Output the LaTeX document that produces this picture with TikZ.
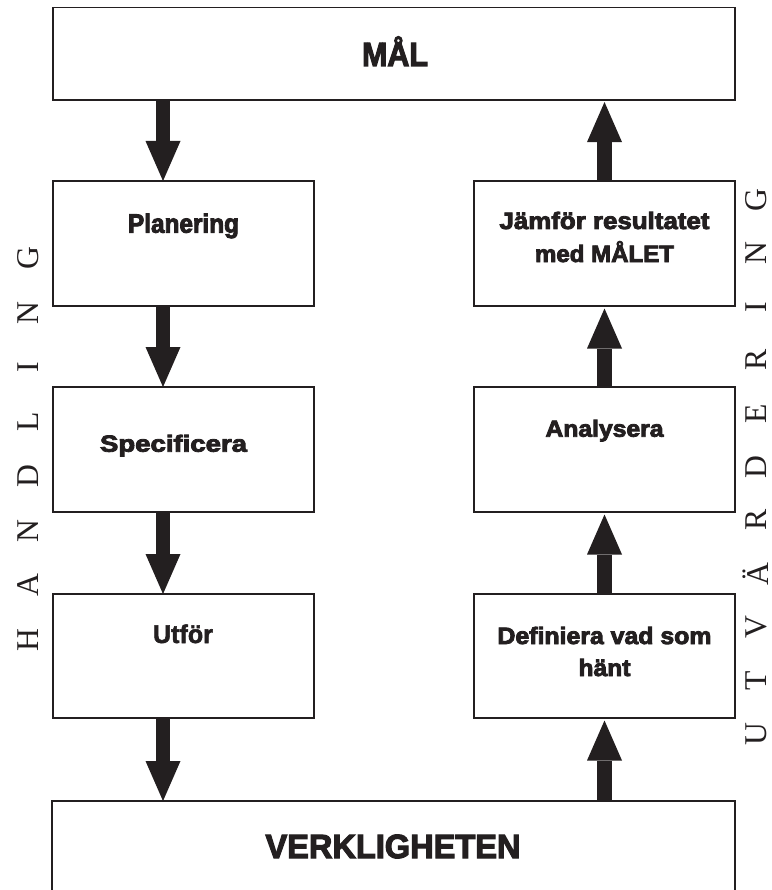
\documentclass[tikz,border=0pt]{standalone}
\usepackage{fontspec}
\usepackage{graphicx}
\usetikzlibrary{arrows.meta}
\setmainfont{Liberation Sans}
\newfontfamily\heavyfont[FakeBold=3.5]{Liberation Sans}
\newfontfamily\medfont[FakeBold=2]{Liberation Sans}
\newfontfamily\letterfont{Liberation Serif}
\definecolor{ink}{HTML}{231F20}
\newcommand{\fitline}[3]{\resizebox{#2pt}{\height}{\fontsize{#1}{#1}\selectfont #3}}
\tikzset{
  box/.style={draw=ink, line width=1.6pt, rectangle, inner sep=0pt, outer sep=0pt},
  txt/.style={anchor=base, inner sep=0pt, outer sep=0pt, text=ink, font=\heavyfont\bfseries},
  vlet/.style={inner sep=0pt, outer sep=0pt, text=ink, rotate=90, font=\letterfont\fontsize{31.7}{32}\selectfont},
  bigarrow/.style={draw=ink, line width=14.7pt, -{Triangle[length=40pt,width=35pt,line width=0pt]}}
}
\begin{document}
\begin{tikzpicture}[x=1pt,y=-1pt]
\useasboundingbox (0,0) rectangle (771,890);
% boxes
\node[box, minimum width=682pt, minimum height=92.7pt] (mal) at (394,53.7) {};
\node[box, minimum width=261pt, minimum height=125pt] (plan) at (183.5,243.5) {};
\node[box, minimum width=261pt, minimum height=125pt] (spec) at (183.5,449.5) {};
\node[box, minimum width=261pt, minimum height=124pt] (utf) at (183.5,656) {};
\node[box, minimum width=261pt, minimum height=125pt] (jmf) at (604.5,243.5) {};
\node[box, minimum width=261pt, minimum height=125pt] (ana) at (604.5,449.5) {};
\node[box, minimum width=261pt, minimum height=124pt] (def) at (604.5,656) {};
\node[box, minimum width=683pt, minimum height=99pt] (verk) at (393.5,850.5) {};
% texts
\node[txt] (tmal) at ([xshift=1pt,yshift=-12.3pt]mal.center) {\fitline{33.5}{66}{MÅL}};
\node[txt] (tverk) at ([xshift=-0.5pt,yshift=-57pt]verk.north) {\fitline{33.5}{255}{VERKLIGHETEN}};
\node[txt] (tplan) at ([yshift=-51.7pt]plan.north) {\fitline{26.5}{111}{Planering}};
\node[txt] (tspec) at ([xshift=-10pt,yshift=-64.7pt]spec.north) {\fitline{23.3}{147}{Specificera}};
\node[txt, font=\medfont\bfseries] (tutf) at ([xshift=-0.5pt,yshift=-49pt]utf.north) {\fitline{25.6}{60}{Utför}};
\node[txt] (tana) at ([yshift=-49.7pt]ana.north) {\fitline{23.3}{118}{Analysera}};
\node[txt] (tjmfa) at ([yshift=-48pt]jmf.north) {\fitline{23.7}{210}{Jämför resultatet}};
\node[txt] (tjmfb) at ([yshift=-81pt]jmf.north) {\fitline{23.7}{139}{med MÅLET}};
\node[txt] (tdefa) at ([yshift=-50pt]def.north) {\fitline{23.7}{214}{Definiera vad som}};
\node[txt] (tdefb) at ([yshift=-82pt]def.north) {\fitline{23.7}{52}{hänt}};
% arrows
\coordinate (lx) at ([xshift=-20.5pt]plan.north);
\draw[bigarrow] (lx |- mal.south) -- (lx);
\draw[bigarrow] ([xshift=-20.5pt]plan.south) -- ([xshift=-20.5pt]spec.north);
\draw[bigarrow] ([xshift=-20.5pt]spec.south) -- ([xshift=-20.5pt]utf.north);
\draw[bigarrow] ([xshift=-20.5pt]utf.south) -- (lx |- verk.north);
\draw[bigarrow, shorten >=2.5pt] (def.south |- verk.north) -- (def.south);
\draw[bigarrow, shorten >=2.5pt] (def.north) -- (ana.south);
\draw[bigarrow, shorten >=2.5pt] (ana.north) -- (jmf.south);
\draw[bigarrow, shorten >=2pt] (jmf.north) -- (jmf.north |- mal.south);
% vertical words
\foreach \l [count=\i from 0] in {H,A,N,D,L,I,N,G}
  \node[vlet] (h\i) at (28,639.7-54.5*\i) {\l};
\foreach \l [count=\i from 0] in {U,T,V,Ä,R,D,E,R,I,N,G}
  \node[vlet] (u\i) at (756,734-53.4*\i) {\l};
\end{tikzpicture}
\end{document}
